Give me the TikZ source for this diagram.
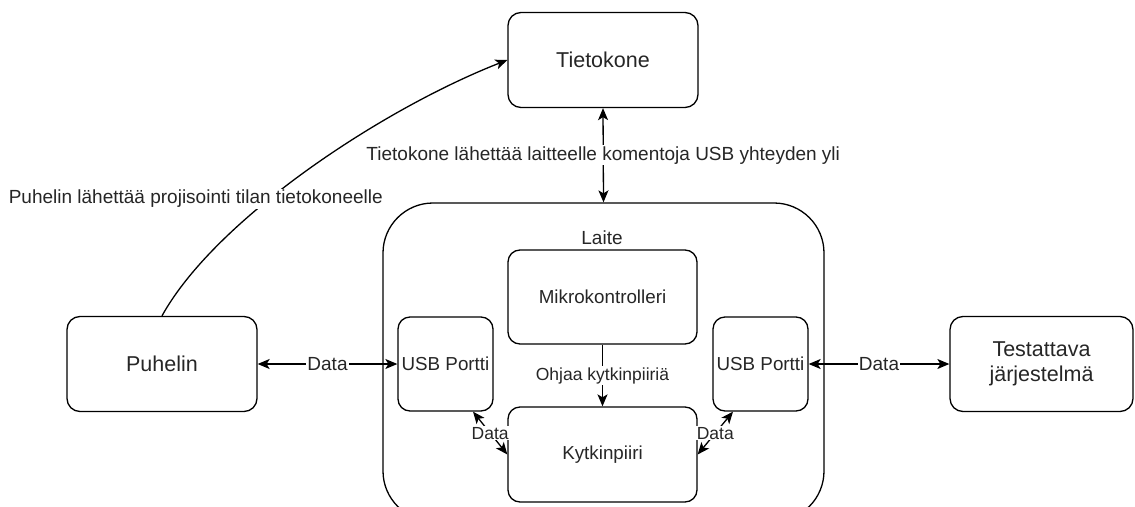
\documentclass[tikz,border=0pt]{standalone}
\usepackage{fontspec}
\setmainfont{Liberation Sans}
\usetikzlibrary{arrows.meta}

\begin{document}
\begin{tikzpicture}[x=1pt,y=-1pt,line width=1.3pt,
    every node/.style={text=black!85},
    box/.style={draw, rounded corners=13pt, minimum width=190pt, minimum height=95pt, align=center, font=\fontsize{21.5}{25}\selectfont},
    part/.style={draw, rounded corners=12pt, inner sep=2pt, font=\fontsize{18.8}{22}\selectfont},
    lbl/.style={fill=white, inner sep=1pt, font=\fontsize{19}{22}\selectfont},
    small/.style={lbl, font=\fontsize{17.5}{20}\selectfont},
    both/.style={{Stealth[length=12pt,width=10pt,inset=3pt]}-{Stealth[length=12pt,width=10pt,inset=3pt]}},
    one/.style={-{Stealth[length=12pt,width=10pt,inset=3pt]}}]
    \useasboundingbox (0,0) rectangle (1135,506);
    \clip (0,0) rectangle (1135,506);
    \node[draw, rounded corners=50pt, minimum width=441pt, minimum height=318pt] (laite) at (603.5,362) {};
    \node[font=\fontsize{19}{22}\selectfont] (laitelbl) at (602,238) {Laite};
    \node[box] (tietokone) at (603,60) {Tietokone};
    \node[box] (puhelin) at (162,364) {Puhelin};
    \node[box, minimum width=183pt] (testattava) at (1041.5,364) {Testattava\\järjestelmä};
    \node[part, minimum width=189pt, minimum height=94pt] (mikro) at (602.5,297) {Mikrokontrolleri};
    \node[part, minimum width=189pt, minimum height=95pt] (kytkin) at (602.5,454.5) {Kytkinpiiri};
    \node[part, minimum width=95pt, minimum height=94pt] (usbL) at (445.5,364) {USB Portti};
    \node[part, minimum width=95pt, minimum height=94pt] (usbR) at (760.5,364) {USB Portti};
    \draw[both] (tietokone.south) -- (laite.north) node[midway, lbl] {Tietokone lähettää laitteelle komentoja USB yhteyden yli};
    \draw[one] (puhelin.north) .. controls (215,220) and (380,110) .. (tietokone.west) node[pos=0.4, lbl, xshift=-74pt] {Puhelin lähettää projisointi tilan tietokoneelle};
    \draw[both] (puhelin) -- (usbL) node[midway, lbl] {Data};
    \draw[both] (usbR) -- (testattava) node[midway, lbl] {Data};
    \draw[one] (mikro) -- (kytkin) node[midway, small] {Ohjaa kytkinpiiriä};
    \draw[both] (usbL.-60) -- (kytkin.west) node[midway, small] {Data};
    \draw[both] (usbR.-120) -- (kytkin.east) node[midway, small] {Data};
\end{tikzpicture}
\end{document}
